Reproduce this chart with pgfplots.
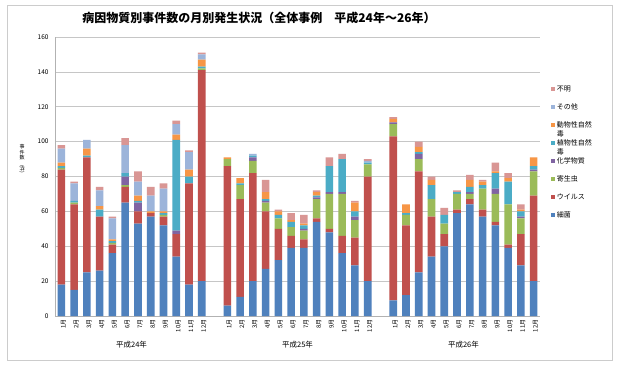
\documentclass[border=0pt]{standalone}
\usepackage{fontspec}
\setmainfont{Noto Sans CJK JP}
\usepackage{graphicx}
\usepackage{pgfplots}
\usepackage{pgfplotstable}
\pgfplotsset{compat=1.18}
\definecolor{cA}{HTML}{4F81BD}
\definecolor{cB}{HTML}{C0504D}
\definecolor{cC}{HTML}{9BBB59}
\definecolor{cD}{HTML}{8064A2}
\definecolor{cE}{HTML}{4BACC6}
\definecolor{cF}{HTML}{F79646}
\definecolor{cG}{HTML}{9CB4DA}
\definecolor{cH}{HTML}{D99694}
\pgfplotstableread{
x A B C D E F G H
0 18 66 1 0 1 2 8 2
1 15 49 1 0 1 0 10 1
2 25 66 0 0 1 4 5 0
3 26 31 0 0 4 2 9 2
4 36 5 1 0 1 1 12 1
5 65 9 1 5 2 0 16 4
6 53 7 0 5 1 3 8 6
7 57 2 0 0 0 1 9 5
8 52 5 1 0 1 1 13 3
9 34 13 0 2 52 3 6 2
10 18 58 0 0 4 4 10 1
11 20 121 1 0 1 4 3 1
13 6 80 4 0 0 1 0 0
14 11 56 8 0 1 3 0 0
15 20 62 7 2 1 0 1 0
16 27 33 5 1 1 4 0 7
17 32 18 6 0 2 2 0 1
18 39 7 5 0 3 1 0 4
19 39 5 5 1 2 1 0 5
20 54 2 11 1 1 2 0 1
21 48 2 20 1 15 0 0 5
22 36 10 24 1 19 0 0 3
23 29 16 10 2 3 5 0 1
24 20 60 7 0 1 0 1 1
26 9 94 7 1 0 2 0 1
27 12 40 6 0 1 5 0 0
28 25 58 7 3 1 3 0 3
29 34 23 10 0 8 3 0 2
30 40 7 6 0 5 0 0 4
31 59 2 9 0 1 0 0 1
32 64 3 3 1 3 4 0 3
33 57 4 12 0 2 2 0 1
34 52 2 16 3 9 1 0 5
35 39 2 23 0 13 2 0 3
36 29 18 9 1 3 1 0 3
37 20 49 14 1 2 5 0 0
}\data
\begin{document}
\begin{tikzpicture}[x=1pt,y=1pt]
\path[use as bounding box] (0,0) rectangle (620,367);
\fill[white] (0,0) rectangle (620,367);
\draw[gray!40, line width=0.8pt] (7,7) rectangle (612,362);
\node[font=\fontsize{12}{14}\selectfont\bfseries] at (259,349) {病因物質別事件数の月別発生状況（全体事例　平成24年～26年）};
\node[font=\fontsize{5}{5.6}\selectfont, align=center] at (22,208) {事\\件\\数\\\rotatebox{-90}{(件)}};
\begin{axis}[
  at={(55pt,51pt)}, anchor=south west,
  width=485pt, height=279pt, scale only axis,
  ybar stacked, bar width=7.6pt,
  xmin=-0.5, xmax=37.5, ymin=0, ymax=160,
  ytick={0,20,...,160},
  ymajorgrids, grid style={gray!45, line width=0.6pt},
  axis x line*=bottom, axis y line*=left,
  axis line style={gray!60, line width=0.6pt, -},
  major tick length=0pt,
  xtick={0,...,11,13,14,...,24,26,27,...,37},
  xticklabels={1月,2月,3月,4月,5月,6月,7月,8月,9月,10月,11月,12月,1月,2月,3月,4月,5月,6月,7月,8月,9月,10月,11月,12月,1月,2月,3月,4月,5月,6月,7月,8月,9月,10月,11月,12月},
  x tick label style={rotate=90, anchor=east, font=\fontsize{6}{7}\selectfont, yshift=-2pt},
  y tick label style={font=\fontsize{6.5}{7}\selectfont, xshift=-3pt},
  /pgf/number format/assume math mode=true,
  clip=false,
  reverse legend,
  legend image code/.code={\fill[#1] (0pt,-2.2pt) rectangle (4.4pt,2.2pt);},
  legend style={at={(1.016,0.835)}, anchor=north west, draw=none, fill=none,
    row sep=10pt, column sep=1pt,
    nodes={font=\fontsize{7}{8}\selectfont, inner sep=0.5pt, text height=5.5pt, text depth=1.5pt, anchor=west}},
]
\addplot[fill=cA, draw=none] table[x=x,y=A]{\data};
\addlegendentry{細菌}
\addplot[fill=cB, draw=none] table[x=x,y=B]{\data};
\addlegendentry{ウイルス}
\addplot[fill=cC, draw=none] table[x=x,y=C]{\data};
\addlegendentry{寄生虫}
\addplot[fill=cD, draw=none] table[x=x,y=D]{\data};
\addlegendentry{化学物質}
\addplot[fill=cE, draw=none] table[x=x,y=E]{\data};
\addlegendentry{\smash{\parbox[t]{40pt}{\fontsize{7}{9}\selectfont 植物性自然\\毒}}}
\addplot[fill=cF, draw=none] table[x=x,y=F]{\data};
\addlegendentry{\smash{\parbox[t]{40pt}{\fontsize{7}{9}\selectfont 動物性自然\\毒}}}
\addplot[fill=cG, draw=none] table[x=x,y=G]{\data};
\addlegendentry{その他}
\addplot[fill=cH, draw=none] table[x=x,y=H]{\data};
\addlegendentry{不明}
\node[font=\fontsize{7.5}{8}\selectfont] at (axis cs:5.5,0) [yshift=-29pt] {平成24年};
\node[font=\fontsize{7.5}{8}\selectfont] at (axis cs:18.5,0) [yshift=-29pt] {平成25年};
\node[font=\fontsize{7.5}{8}\selectfont] at (axis cs:31.5,0) [yshift=-29pt] {平成26年};
\end{axis}
\end{tikzpicture}
\end{document}
